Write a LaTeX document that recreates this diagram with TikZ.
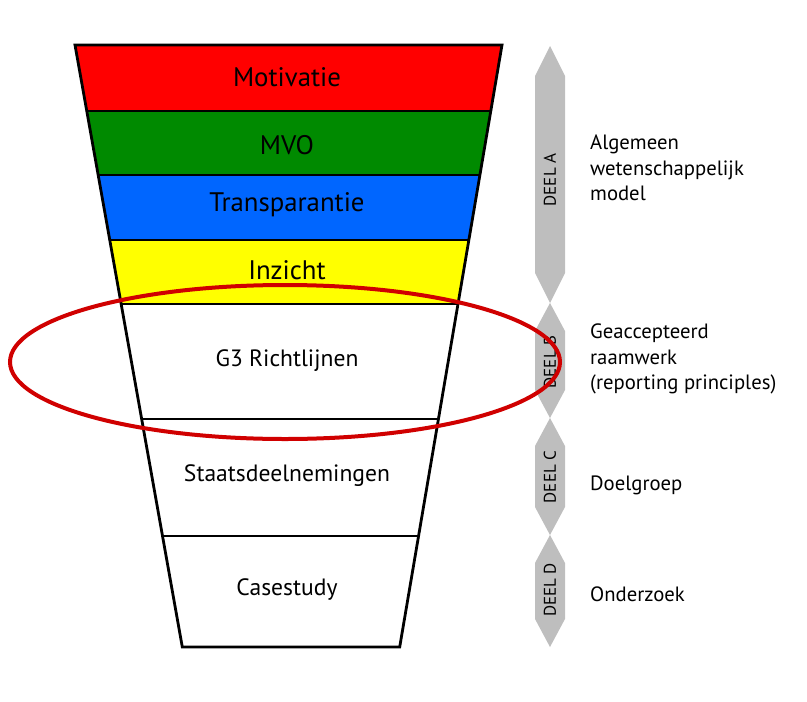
\documentclass[tikz,border=0pt]{standalone}
\usepackage{fontspec}
\setmainfont{PT Sans}
\definecolor{bandred}{RGB}{255,0,0}
\definecolor{bandgreen}{RGB}{0,138,0}
\definecolor{bandblue}{RGB}{0,102,255}
\definecolor{bandyellow}{RGB}{255,255,0}
\definecolor{ringred}{RGB}{208,0,0}
\definecolor{deelgray}{RGB}{190,190,190}
\begin{document}
\begin{tikzpicture}[x=1pt,y=-1pt,
  bandtext/.style={font=\fontsize{26.8}{30}\selectfont, text=black, inner sep=0pt},
  lowtext/.style={font=\fontsize{23.6}{30}\selectfont, text=black, inner sep=0pt},
  sidetext/.style={font=\fontsize{20.7}{25.5}\selectfont, align=left, anchor=west, inner sep=0pt},
  deeltext/.style={font=\fontsize{17}{20}\selectfont, rotate=90, inner sep=0pt},
  divider/.style={line width=2pt, black},
  outline/.style={line width=2.8pt, black, line join=miter},
  deelshape/.style={fill=deelgray, draw=none}]
\useasboundingbox (0,0) rectangle (807,702);
% funnel coordinates
\coordinate (L0) at (75,45);    \coordinate (R0) at (502,45);
\coordinate (L1) at (86.8,111); \coordinate (R1) at (490.8,111);
\coordinate (L2) at (98.2,175); \coordinate (R2) at (479.9,175);
\coordinate (L3) at (109.8,240);\coordinate (R3) at (468.8,240);
\coordinate (L4) at (121.2,304);\coordinate (R4) at (458.0,304);
\coordinate (L5) at (141.7,419);\coordinate (R5) at (438.4,419);
\coordinate (L6) at (162.5,536);\coordinate (R6) at (418.5,536);
\coordinate (L7) at (182.3,647);\coordinate (R7) at (399.7,647);
% bands
\fill[bandred] (L0) -- (R0) -- (R1) -- (L1) -- cycle;
\fill[bandgreen] (L1) -- (R1) -- (R2) -- (L2) -- cycle;
\fill[bandblue] (L2) -- (R2) -- (R3) -- (L3) -- cycle;
\fill[bandyellow] (L3) -- (R3) -- (R4) -- (L4) -- cycle;
\fill[white] (L4) -- (R4) -- (R7) -- (L7) -- cycle;
\draw[divider] (L1) -- (R1);
\draw[divider] (L2) -- (R2);
\draw[divider] (L3) -- (R3);
\draw[divider] (L4) -- (R4);
\draw[divider] (L5) -- (R5);
\draw[divider] (L6) -- (R6);
\draw[outline] (L0) -- (R0) -- (R7) -- (L7) -- cycle;
% band labels
\node[bandtext] (motivatie) at (287,77) {Motivatie};
\node[bandtext] (mvo) at (287,145) {MVO};
\node[bandtext] (transp) at (287,205) {Transparantie};
\node[bandtext] (inzicht) at (287,270) {Inzicht};
\node[lowtext] (g3) at (287,361) {G3 Richtlijnen};
\node[lowtext] (staats) at (287,476) {Staatsdeelnemingen};
\node[lowtext] (case) at (287,590) {Casestudy};
% DEEL shapes
\fill[deelshape] (550,46) -- (565,76) -- (565,273) -- (550,303) -- (535,273) -- (535,76) -- cycle;
\fill[deelshape] (550,303) -- (565,331) -- (565,390) -- (550,418) -- (535,390) -- (535,331) -- cycle;
\fill[deelshape] (550,418) -- (565,446) -- (565,507) -- (550,535) -- (535,507) -- (535,446) -- cycle;
\fill[deelshape] (550,535) -- (565,563) -- (565,619) -- (550,647) -- (535,619) -- (535,563) -- cycle;
\node[deeltext] (deela) at (550,180) {DEEL A};
\node[deeltext] (deelb) at (550,362) {DEEL B};
\node[deeltext] (deelc) at (550,477) {DEEL C};
\node[deeltext] (deeld) at (550,590) {DEEL D};
% side labels
\node[sidetext] (sa) at (590,168) {Algemeen\\wetenschappelijk\\model};
\node[sidetext] (sb) at (590,359) {Geaccepteerd\\raamwerk\\(reporting principles)};
\node[sidetext] (sc) at (590,485) {Doelgroep};
\node[sidetext] (sd) at (590,594) {Onderzoek};
% ellipse
\draw[ringred, line width=4pt] (285,362) ellipse [x radius=275, y radius=77];
\end{tikzpicture}
\end{document}
